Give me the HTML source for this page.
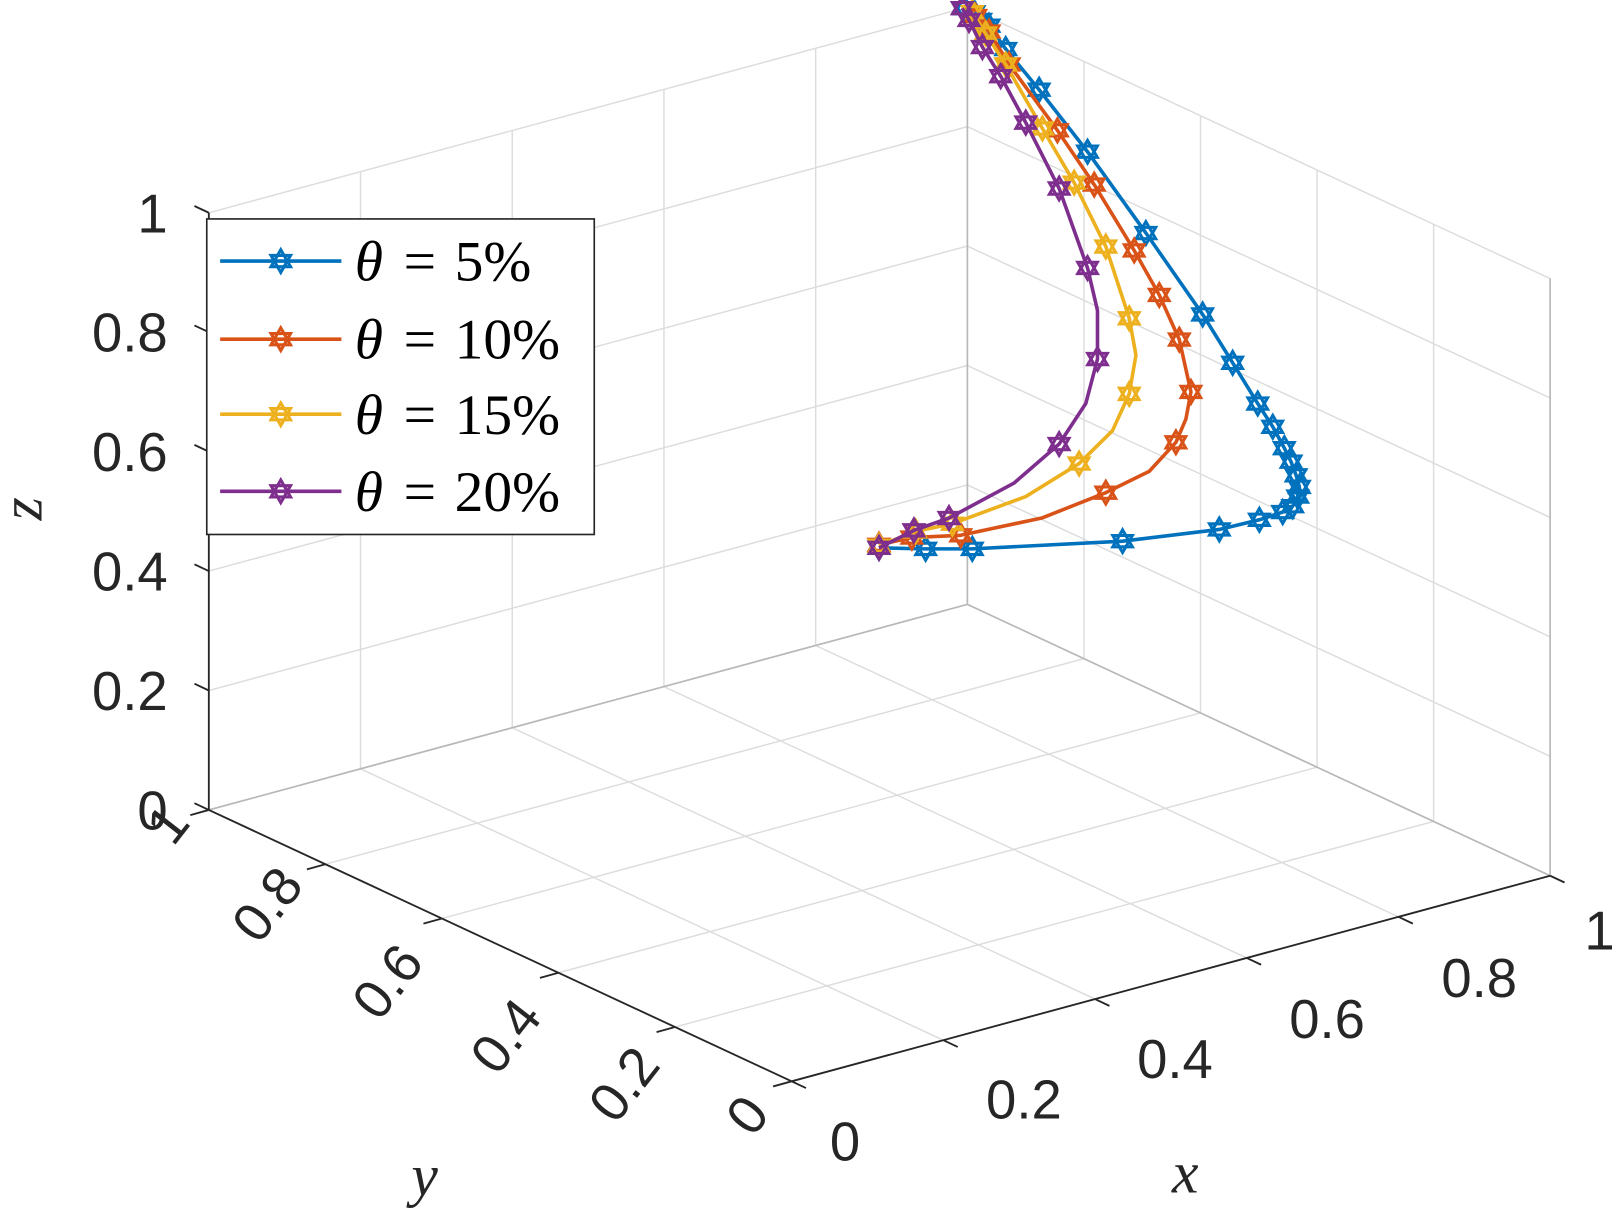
<!DOCTYPE html>
<html><head><meta charset="utf-8"><style>html,body{margin:0;padding:0;background:#fff}svg{display:block}</style></head>
<body>
<svg id="s" width="1612" height="1218" viewBox="0 0 1568 1185" xmlns="http://www.w3.org/2000/svg">
<rect width="1568" height="1185" fill="#fff"/>
<g id="grid" stroke="#dcdcdc" stroke-width="1.4" fill="none"></g>
<g id="edges" stroke="#b8b8b8" stroke-width="1.6" fill="none"></g>
<g id="axes" stroke="#262626" stroke-width="1.8" fill="none"></g>
<g id="labels" font-family="Liberation Sans, sans-serif" font-size="53" fill="#262626"></g>
<g id="data" fill="none" stroke-width="3.5" stroke-linejoin="round"></g>
<g id="legend"></g>
<text x="1153" y="1160" font-family="Liberation Serif, serif" font-style="italic" font-size="58" fill="#262626" text-anchor="middle">x</text>
<text x="413" y="1163" font-family="Liberation Serif, serif" font-style="italic" font-size="58" fill="#262626" text-anchor="middle">y</text>
<text x="0" y="0" transform="translate(40,495) rotate(-90)" font-family="Liberation Serif, serif" font-style="italic" font-size="58" fill="#262626" text-anchor="middle">z</text>
</svg>
<script>
var NS="http://www.w3.org/2000/svg";
function P(x,y,z){return [770+738*x-567*y,1052-200*x-264*y-581*z];}
function line(g,a,b,attrs){var l=document.createElementNS(NS,"line");l.setAttribute("x1",a[0]);l.setAttribute("y1",a[1]);l.setAttribute("x2",b[0]);l.setAttribute("y2",b[1]);if(attrs)for(var k in attrs)l.setAttribute(k,attrs[k]);document.getElementById(g).appendChild(l);}
var ks=[0,0.2,0.4,0.6,0.8,1];
ks.forEach(function(k){
 line("grid",P(k,0,0),P(k,1,0));line("grid",P(0,k,0),P(1,k,0));
 line("grid",P(k,1,0),P(k,1,1));line("grid",P(0,1,k),P(1,1,k));
 line("grid",P(1,k,0),P(1,k,1));line("grid",P(1,0,k),P(1,1,k));
});
line("edges",P(1,1,0),P(1,1,1));line("edges",P(0,1,0),P(1,1,0));line("edges",P(1,0,0),P(1,1,0));
line("edges",P(1,0,0),P(1,0,1));
line("axes",P(0,1,0),P(0,1,1));line("axes",P(0,0,0),P(1,0,0));line("axes",P(0,0,0),P(0,1,0));
var lab=document.getElementById("labels");
function txt(s,x,y,anchor,tr){var t=document.createElementNS(NS,"text");t.textContent=s;t.setAttribute("x",x);t.setAttribute("y",y);t.setAttribute("text-anchor",anchor||"middle");if(tr)t.setAttribute("transform",tr);lab.appendChild(t);}
var names=["0","0.2","0.4","0.6","0.8","1"];
ks.forEach(function(k,i){
 var a=P(0,1,k);line("axes",a,[a[0]-14,a[1]-6.6]);
 txt(names[i],163,a[1]+19,"end");
 var b=P(k,0,0);line("axes",b,[b[0]+14,b[1]+6.6]);
 var c=P(0,k,0);line("axes",c,[c[0]-18,c[1]+5]);
});
var xl=[[822,1129],[996,1088],[1143,1049],[1291,1010],[1439,970],[1556,924]];
xl.forEach(function(p,i){txt(names[i],p[0],p[1],"middle");});
var yl=[[727,1085],[607,1055],[492,1008],[377,955],[260,880],[163,802]];
yl.forEach(function(p,i){txt(names[i],0,0,"middle","translate("+p[0]+","+(p[1])+") rotate(-52) translate(0,18)");});
function star(cx,cy,r,col,g){
 var pts1=[],pts2=[];
 for(var i=0;i<3;i++){var a=-Math.PI/2+i*2*Math.PI/3;pts1.push((cx+r*Math.cos(a)).toFixed(1)+","+(cy+r*Math.sin(a)).toFixed(1));
 var b=Math.PI/2+i*2*Math.PI/3;pts2.push((cx+r*Math.cos(b)).toFixed(1)+","+(cy+r*Math.sin(b)).toFixed(1));}
 [pts1,pts2].forEach(function(p){var e=document.createElementNS(NS,"polygon");e.setAttribute("points",p.join(" "));e.setAttribute("fill","none");e.setAttribute("stroke",col);e.setAttribute("stroke-width","3");e.setAttribute("stroke-linejoin","miter");g.appendChild(e);});
}
var D=document.getElementById("data");
function series(col,pts,marks){
 var pl=document.createElementNS(NS,"polyline");pl.setAttribute("points",pts.map(function(p){return p[0]+","+p[1];}).join(" "));pl.setAttribute("stroke",col);D.appendChild(pl);
 pts.forEach(function(p,i){if(marks.indexOf(i)<0)star(p[0],p[1],11,col,D);});
}
var purple=[[936,8],[942.6,19.4],[955.6,45.8],[973.4,74.1],[997.8,119.3],[1030.3,183.4],[1057.9,260.7],[1067.6,302.1],[1067.6,349.3],[1056.2,392.6],[1030.3,432],[986.4,470],[923.1,504],[889,516],[855,533]];
var yellow=[[945.8,11.9],[958.8,32.6],[978.3,62.7],[1014,125],[1044.9,177.7],[1075.7,239.9],[1098.5,309.7],[1105,345.5],[1098.5,383.2],[1082.2,419],[1049.7,451],[997.8,483.1],[926.4,509.5],[890.6,517],[855,531]];
var orange=[[949.1,15.6],[962.1,30.7],[981.6,62.7],[1028.6,126.8],[1064.4,179.6],[1103.3,243.7],[1127.7,287],[1147.2,330.4],[1158.5,381.3],[1153.6,407.7],[1143.9,430.3],[1117.9,458.6],[1075.7,479.3],[1014,503.8],[934.5,520.8],[887,523],[855,530]];
var blue=[[938,8],[947.5,12],[954,19.4],[962,25],[978.3,47.7],[1010.8,87.3],[1057.9,147.6],[1114.7,226.7],[1169.9,305.9],[1199.1,353],[1223.5,392.6],[1238.1,415.2],[1249.4,436],[1255.9,449.2],[1260.8,462.4],[1264,473.7],[1262.4,483.1],[1257.5,492.5],[1247.8,498.2],[1225.1,505.7],[1186.1,515.1],[1092,526.5],[945.8,534],[900.4,534],[855,533]];
series("#0072BD",blue,[]);
series("#D95319",orange,[9,11,13]);
series("#EDB120",yellow,[7,9,11]);
series("#7E2F8E",purple,[7,9,11]);
var L=document.getElementById("legend");
var r=document.createElementNS(NS,"rect");r.setAttribute("x",201);r.setAttribute("y",213);r.setAttribute("width",377);r.setAttribute("height",307);r.setAttribute("fill","#fff");r.setAttribute("stroke","#262626");r.setAttribute("stroke-width","1.6");L.appendChild(r);
var ents=[["#0072BD","5%",254],["#D95319","10%",330],["#EDB120","15%",403],["#7E2F8E","20%",478]];
ents.forEach(function(e){
 var l=document.createElementNS(NS,"line");l.setAttribute("x1",214);l.setAttribute("x2",332);l.setAttribute("y1",e[2]);l.setAttribute("y2",e[2]);l.setAttribute("stroke",e[0]);l.setAttribute("stroke-width",3.5);L.appendChild(l);
 star(273,e[2],11,e[0],L);
 var t=document.createElementNS(NS,"text");t.setAttribute("x",345);t.setAttribute("y",e[2]+19);t.setAttribute("font-family","Liberation Serif, serif");t.setAttribute("font-size","56");t.setAttribute("fill","#000");
 t.innerHTML='<tspan font-style="italic">θ</tspan><tspan dx="20">=</tspan><tspan dx="18">'+e[1]+'</tspan>';L.appendChild(t);
});
</script>
</body></html>
